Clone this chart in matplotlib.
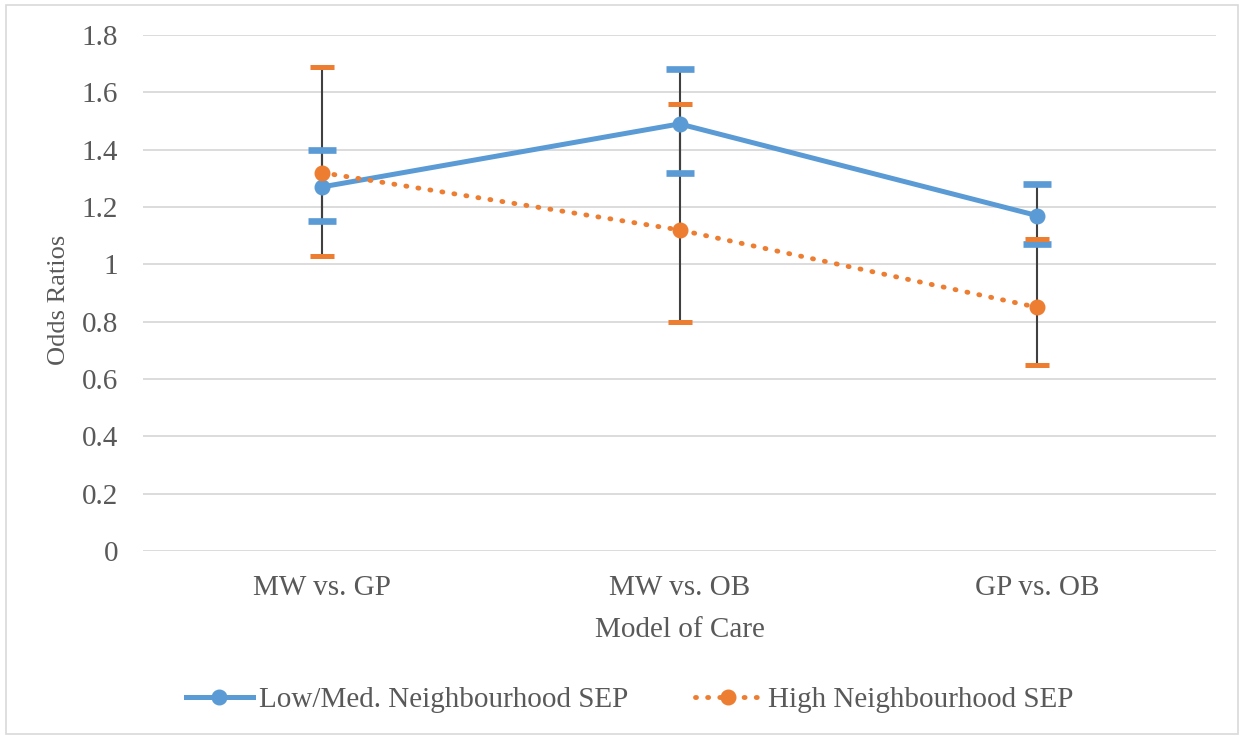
import numpy as np
import matplotlib.pyplot as plt
from matplotlib.patches import Rectangle
from matplotlib.lines import Line2D

# data
categories = ["MW vs. GP", "MW vs. OB", "GP vs. OB"]
low_or = [1.27, 1.49, 1.17]
low_lo = [1.15, 1.32, 1.07]
low_hi = [1.40, 1.68, 1.28]
high_or = [1.32, 1.12, 0.85]
high_lo = [1.03, 0.80, 0.65]
high_hi = [1.69, 1.56, 1.09]

BLUE = "#5b9bd5"
ORANGE = "#ed7d31"
TXT = "#595959"
DOTS = (0, (0.2, 2.3))

plt.rcParams['font.family'] = ['Liberation Serif', 'DejaVu Serif']

fig = plt.figure(figsize=(12.44, 7.36), dpi=100)
ax = fig.add_axes([0.115, 0.2514, 0.8625, 0.701])
fig.patches.append(Rectangle((0.005, 0.003), 0.99, 0.99, transform=fig.transFigure,
                             fill=False, edgecolor="#d9d9d9", lw=1.2))

x = np.arange(len(categories))

# error bars (dark vertical lines, coloured caps)
for lo, hi, c, cw, cth in [(low_lo, low_hi, BLUE, 20, 4.8), (high_lo, high_hi, ORANGE, 17, 3.6)]:
    ax.vlines(x, lo, hi, color="#404040", lw=1.5, zorder=3)
    ax.plot(x, lo, ls="none", marker="_", ms=cw, mew=cth, color=c, zorder=4)
    ax.plot(x, hi, ls="none", marker="_", ms=cw, mew=cth, color=c, zorder=4)

ax.plot(x, low_or, color=BLUE, lw=3.6, marker="o", ms=10.5, zorder=5)
ax.plot(x, high_or, color=ORANGE, lw=3.5, ls=DOTS, dash_capstyle="round",
        marker="o", ms=10.5, zorder=5)

ax.set_xlim(-0.5, 2.5)
ax.set_ylim(0, 1.8)
ax.set_yticks(np.arange(0, 1.81, 0.2))
ax.set_yticklabels(["0", "0.2", "0.4", "0.6", "0.8", "1", "1.2", "1.4", "1.6", "1.8"])
ax.set_xticks(x)
ax.set_xticklabels(categories)
ax.tick_params(length=0, labelsize=21, labelcolor=TXT)
ax.tick_params(axis="y", pad=18)
ax.tick_params(axis="x", pad=17)
ax.grid(axis="y", color="#d9d9d9", lw=1.3)
ax.set_axisbelow(True)
for s in ax.spines.values():
    s.set_visible(False)

ax.set_ylabel("Odds Ratios", fontsize=19, color=TXT, labelpad=8)
ax.yaxis.label.set_y(0.486)
ax.set_xlabel("Model of Care", fontsize=21, color=TXT, labelpad=12)

handles = [Line2D([], [], color=BLUE, lw=3.6, marker="o", ms=10.5),
           Line2D([], [], color=ORANGE, lw=3.5, ls=DOTS, dash_capstyle="round",
                  marker="o", ms=10.5)]
fig.legend(handles, ["Low/Med. Neighbourhood SEP", "High Neighbourhood SEP"],
           loc="center", bbox_to_anchor=(0.506, 0.049), ncol=2, frameon=False,
           fontsize=21, handlelength=2.3, handletextpad=0.2, columnspacing=2.3,
           labelcolor=TXT)

fig.savefig("out.png", dpi=100)
